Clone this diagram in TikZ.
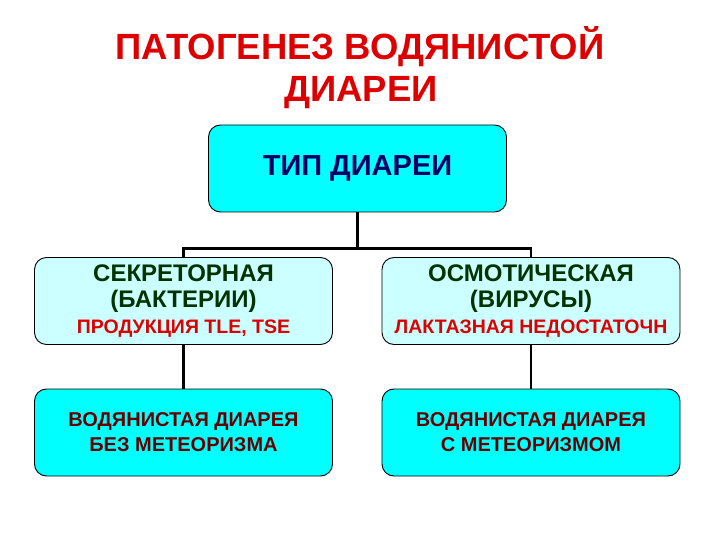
\documentclass[tikz,border=0pt]{standalone}
\usepackage{fontspec}
\setmainfont{Liberation Sans}
\usetikzlibrary{positioning}
\definecolor{titlered}{HTML}{DD0000}
\definecolor{typenavy}{HTML}{000066}
\definecolor{kindgreen}{HTML}{003300}
\definecolor{causered}{HTML}{DD0000}
\definecolor{resultred}{HTML}{660000}
\definecolor{boxcyan}{HTML}{00FFFF}
\definecolor{boxpale}{HTML}{CCFFFF}
\tikzset{
  box/.style={draw=black, line width=0.9pt, rounded corners=12pt,
    minimum width=298pt, minimum height=87pt, inner sep=0pt, align=center},
  titletext/.style={text=titlered, font=\fontsize{36.5}{42}\selectfont\bfseries, inner sep=0pt},
  typebox/.style={box, fill=boxcyan, text=typenavy, font=\fontsize{29}{32}\selectfont\bfseries},
  kindbox/.style={box, fill=boxpale, text=kindgreen, font=\fontsize{24}{26}\selectfont\bfseries},
  resultbox/.style={box, fill=boxcyan, text=resultred, font=\fontsize{20}{25}\selectfont\bfseries},
  link/.style={line width=2.4pt}
}
\begin{document}
\begin{tikzpicture}[x=1pt,y=-1pt]
\useasboundingbox (0,0) rectangle (720,540);
\node[titletext, anchor=base] (title1) at (360,60) {ПАТОГЕНЕЗ ВОДЯНИСТОЙ};
\node[titletext, anchor=base] (title2) at (361,102) {ДИАРЕИ};
\node[typebox] (type) at (357.5,168.5) {ТИП ДИАРЕИ};
\node[kindbox] (secret) at (183.5,301) {СЕКРЕТОРНАЯ\\(БАКТЕРИИ)\\{\color{causered}\fontsize{19.5}{26}\selectfont ПРОДУКЦИЯ TLE, TSE}};
\node[kindbox] (osmot) at (531,301) {ОСМОТИЧЕСКАЯ\\(ВИРУСЫ)\\{\color{causered}\fontsize{19.5}{26}\selectfont ЛАКТАЗНАЯ НЕДОСТАТОЧН}};
\node[resultbox] (nogas) at (183.5,432.5) {ВОДЯНИСТАЯ ДИАРЕЯ\\БЕЗ МЕТЕОРИЗМА};
\node[resultbox] (gas) at (531,432.5) {ВОДЯНИСТАЯ ДИАРЕЯ\\С МЕТЕОРИЗМОМ};
\draw[link] (type.south) -- ++(0,36) -| (secret.north);
\draw[link] (type.south) -- ++(0,36) -| (osmot.north);
\draw[link] (secret.south) -- (nogas.north);
\draw[link] (osmot.south) -- (gas.north);
\end{tikzpicture}
\end{document}
